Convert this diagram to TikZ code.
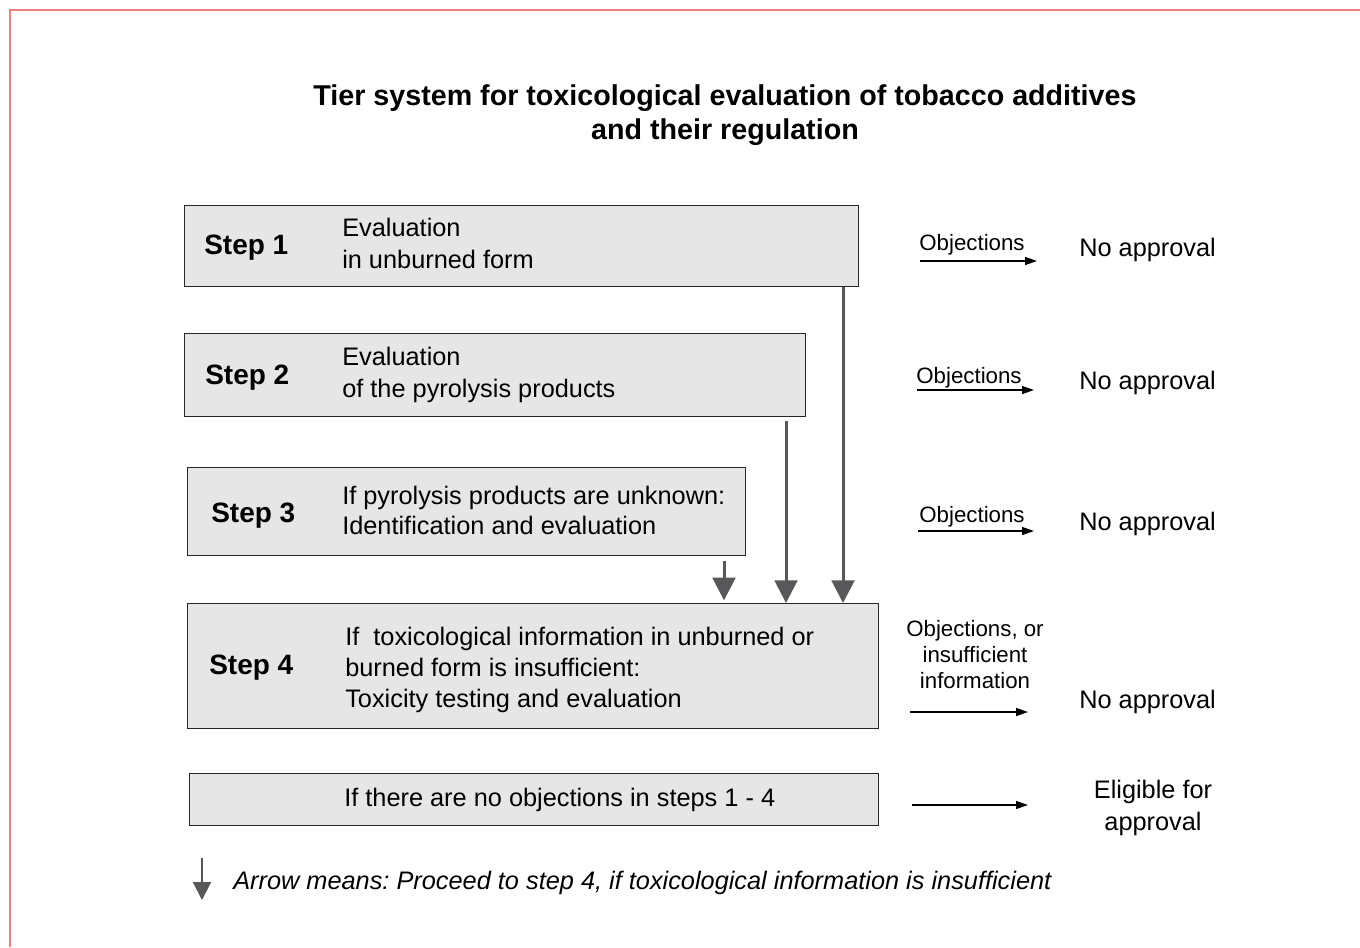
\documentclass[tikz,border=0pt]{standalone}
\usepackage{fontspec}
\setmainfont{Liberation Sans}
\usetikzlibrary{arrows.meta}
\definecolor{boxfill}{HTML}{E6E6E6}
\definecolor{arrowgray}{HTML}{58585B}
\definecolor{framered}{HTML}{F08080}
\frenchspacing
\begin{document}
\begin{tikzpicture}[x=0.75pt,y=-0.75pt,
  stepbox/.style={draw=black!85, line width=1pt, fill=boxfill, anchor=north west, inner sep=0pt},
  steplabel/.style={font=\fontsize{21}{25}\selectfont\bfseries, anchor=west, inner sep=0pt},
  body/.style={font=\fontsize{19}{24}\selectfont, align=left, anchor=west, inner sep=0pt},
  small/.style={font=\fontsize{16.7}{19.5}\selectfont, inner sep=0pt, align=center},
  result/.style={font=\fontsize{19}{23.5}\selectfont, inner sep=0pt, align=center},
  downarrow/.style={draw=arrowgray, line width=2.25pt, -{Triangle[width=17pt,length=17pt]}},
  rightarrow/.style={draw=black, line width=1pt, -{Triangle[width=6pt,length=9pt]}},
  legendarrow/.style={draw=arrowgray, line width=1.5pt, -{Triangle[width=13.5pt,length=13.5pt]}},
]
\useasboundingbox (0,0) rectangle (1360,947);
\draw[framered, line width=1.6pt] (10,947) -- (10,10) -- (1360,10);

\node[font=\fontsize{21.5}{25.5}\selectfont\bfseries, align=center] (title) at (725,115)
  {Tier system for toxicological evaluation of tobacco additives\\and their regulation};

% boxes
\node[stepbox, minimum width=505.5pt, minimum height=60.75pt] (b1) at (184,205) {};
\node[stepbox, minimum width=465.75pt, minimum height=62.25pt] (b2) at (184,333) {};
\node[stepbox, minimum width=418.5pt, minimum height=66pt] (b3) at (187,467) {};
\node[stepbox, minimum width=518.25pt, minimum height=93.75pt] (b4) at (187,603) {};
\node[stepbox, minimum width=516.75pt, minimum height=39pt] (b5) at (189,773) {};

% step labels and texts
\node[steplabel] (s1) at (204,248) {Step 1};
\node[body] (t1) at (342,243.5) {Evaluation\\in unburned form};
\node[steplabel] (s2) at (205,378) {Step 2};
\node[body] (t2) at (342,375) {Evaluation\\of the pyrolysis products};
\node[steplabel] (s3) at (211,516) {Step 3};
\node[body, font=\fontsize{19}{23}\selectfont] (t3) at (342,510.5) {If pyrolysis products are unknown:\\Identification and evaluation};
\node[steplabel] (s4) at (209,668) {Step 4};
\node[body, font=\fontsize{19}{23}\selectfont] (t4) at (345,670) {If\ \ toxicological information in unburned or\\burned form is insufficient:\\Toxicity testing and evaluation};
\node[body] (t5) at (344,800) {If there are no objections in steps 1 - 4};

% vertical arrows
\coordinate (x1) at (843,0);
\coordinate (x2) at (786,0);
\coordinate (x3) at (724,0);
\draw[downarrow] (b1.south -| x1) -- (b4.north -| x1);
\draw[downarrow] ([yshift=-3pt]b2.south -| x2) -- (b4.north -| x2);
\draw[downarrow, shorten >=2pt] ([yshift=-3.5pt]b3.south -| x3) -- (b4.north -| x3);

% right side
\node[small] (o1) at (972,245) {Objections};
\node[small] (o2) at (969,378) {Objections};
\node[small] (o3) at (972,517) {Objections};
\node[small] (o4) at (975,655) {Objections, or\\insufficient\\information};

\node[result, anchor=west] (n1) at (1079,250) {No approval};
\node[result, anchor=west] (n2) at (1079,383) {No approval};
\node[result, anchor=west] (n3) at (1079,524) {No approval};
\node[result, anchor=west] (n4) at (1079,702) {No approval};
\node[result] (n5) at (1153,808) {Eligible for\\approval};

\coordinate (a1s) at (920,261); \coordinate (a1e) at (1037,261);
\coordinate (a2s) at (917,390); \coordinate (a2e) at (1034,390);
\coordinate (a3s) at (918,531); \coordinate (a3e) at (1034,531);
\coordinate (a4s) at (910,712); \coordinate (a4e) at (1028,712);
\coordinate (a5s) at (912,805); \coordinate (a5e) at (1028,805);
\draw[rightarrow] (a1s) -- (a1e);
\draw[rightarrow] (a2s) -- (a2e);
\draw[rightarrow] (a3s) -- (a3e);
\draw[rightarrow] (a4s) -- (a4e);
\draw[rightarrow] (a5s) -- (a5e);

% legend
\coordinate (l1) at (202,858);
\coordinate (l2) at (202,900);
\draw[legendarrow] (l1) -- (l2);
\node[font=\fontsize{19}{23}\selectfont\itshape, anchor=west, inner sep=0pt] (legend) at (233,883)
  {Arrow means: Proceed to step 4, if toxicological information is insufficient};
\end{tikzpicture}
\end{document}
